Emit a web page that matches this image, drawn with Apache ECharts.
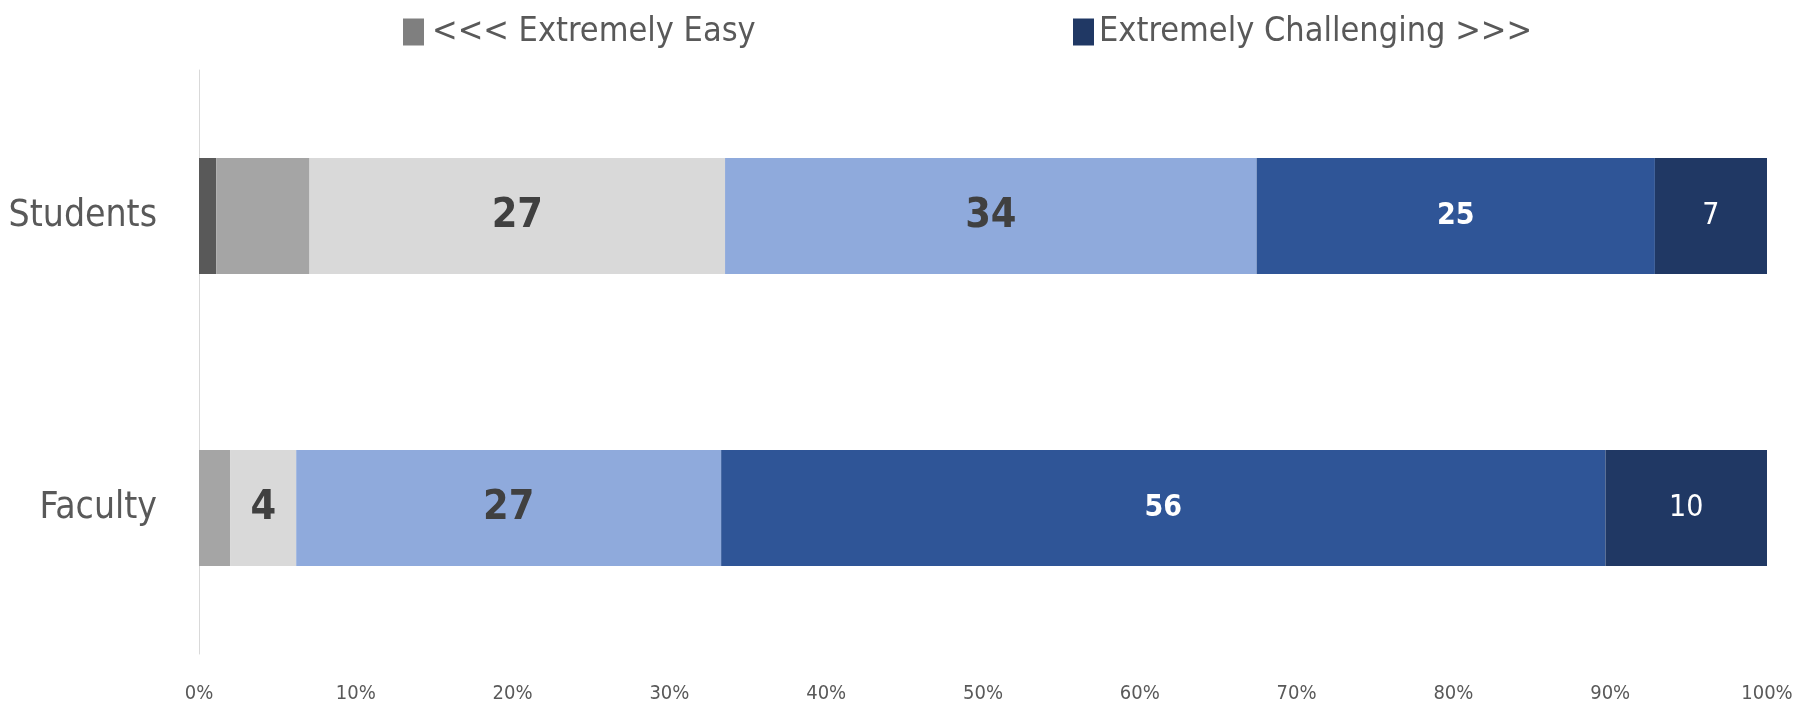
<!DOCTYPE html>
<html>
<head>
<meta charset="utf-8">
<script src="https://cdn.jsdelivr.net/npm/echarts@6/dist/echarts.min.js"></script>
<style>
html,body{margin:0;padding:0;background:#fff;}
#chart{width:1810px;height:702px;}
</style>
</head>
<body>
<div id="chart"></div>
<script>
// Categories (top to bottom)
const categories = ['Students', 'Faculty'];
// Segment values (% of respondents), ordered from easiest to most challenging
const level1 = [1.1, 0];
const level2 = [5.95, 2.0];
const level3 = [26.5, 4.2];
const level4 = [33.9, 27.1];
const level5 = [25.4, 56.4];
const level6 = [7.2, 10.3];
// Axis tick labels
const xTicks = [0, 10, 20, 30, 40, 50, 60, 70, 80, 90, 100];
const legendEasy = '<<< Extremely Easy';
const legendHard = 'Extremely Challenging >>>';

const FONT = '"DejaVu Sans Condensed", "Liberation Sans", sans-serif';
const colors = ['#595959', '#a5a5a5', '#d9d9d9', '#8faadc', '#2f5597', '#203864'];

function seg(name, data, color, label) {
  return {
    name: name,
    type: 'bar',
    stack: 'total',
    barWidth: 116,
    data: data,
    itemStyle: { color: color },
    label: label ? Object.assign({
      show: true,
      position: 'inside',
      fontFamily: FONT,
      formatter: p => Math.round(p.value)
    }, label) : { show: false },
    emphasis: { disabled: true }
  };
}

const chart = echarts.init(document.getElementById('chart'), null, { renderer: 'canvas' });
chart.setOption({
  animation: false,
  textStyle: { fontFamily: FONT },
  legend: [
    {
      left: 403, top: 15, padding: 0,
      itemWidth: 21, itemHeight: 27, itemGap: 0,
      icon: 'rect',
      selectedMode: false,
      textStyle: { fontFamily: FONT, fontSize: 34, color: '#595959', lineHeight: 27, padding: [0, 0, 0, 3] },
      data: [{ name: legendEasy, itemStyle: { color: '#7f7f7f' } }]
    },
    {
      left: 1073, top: 15, padding: 0,
      itemWidth: 21, itemHeight: 27, itemGap: 0,
      icon: 'rect',
      selectedMode: false,
      textStyle: { fontFamily: FONT, fontSize: 34, color: '#595959', lineHeight: 27, padding: [0, 0, 0, 0] },
      data: [{ name: legendHard, itemStyle: { color: '#203864' } }]
    }
  ],
  grid: { left: 199, right: 43, top: 70, bottom: 48, outerBoundsMode: 'none', containLabel: false },
  xAxis: {
    type: 'value',
    min: xTicks[0],
    max: xTicks[xTicks.length - 1],
    interval: 10,
    axisLine: { show: false },
    axisTick: { show: false },
    splitLine: { show: false },
    axisLabel: {
      formatter: '{value}%',
      fontFamily: FONT,
      fontSize: 20,
      color: '#595959',
      margin: 30
    }
  },
  yAxis: {
    type: 'category',
    inverse: true,
    data: categories,
    axisLine: { show: true, lineStyle: { color: '#d9d9d9', width: 1 } },
    axisTick: { show: false },
    axisLabel: { fontFamily: FONT, fontSize: 37, color: '#595959', margin: 42 }
  },
  series: [
    seg(legendEasy, level1, colors[0], null),
    seg('Easy', level2, colors[1], null),
    seg('Somewhat Easy', level3, colors[2], { color: '#404040', fontWeight: 'bold', fontSize: 41 }),
    seg('Somewhat Challenging', level4, colors[3], { color: '#404040', fontWeight: 'bold', fontSize: 41 }),
    seg('Challenging', level5, colors[4], { color: '#ffffff', fontWeight: 'bold', fontSize: 30 }),
    seg(legendHard, level6, colors[5], { color: '#ffffff', fontWeight: 'normal', fontSize: 30 })
  ]
});
</script>
</body>
</html>
